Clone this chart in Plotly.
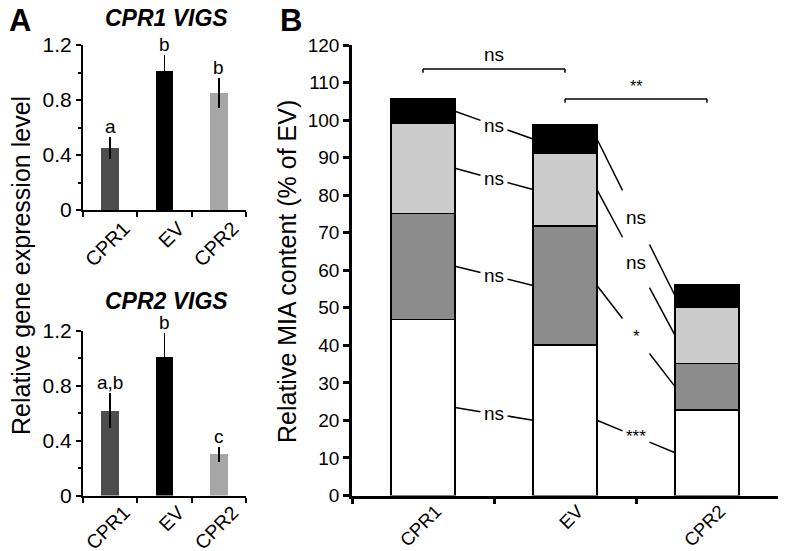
import plotly.graph_objects as go

# ---------------- data ----------------
categories = ["CPR1", "EV", "CPR2"]

# Panel A (top): CPR1 VIGS
a1_values = [0.45, 1.01, 0.85]
a1_errors = [0.08, 0.12, 0.11]
a1_letters = ["a", "b", "b"]

# Panel A (bottom): CPR2 VIGS
a2_values = [0.62, 1.01, 0.30]
a2_errors = [0.125, 0.175, 0.055]
a2_letters = ["a,b", "b", "c"]

a_colors = ["#4d4d4d", "#000000", "#a6a6a6"]
a_yticks = [0, 0.4, 0.8, 1.2]
a_yticktext = ["0", "0.4", "0.8", "1.2"]

# Panel B: stacked segments (bottom -> top)
b_white = [46.9, 40.1, 22.8]
b_dark = [28.3, 31.7, 12.4]
b_light = [23.9, 19.4, 14.9]
b_black = [6.5, 7.5, 6.2]
b_segments = [b_white, b_dark, b_light, b_black]
b_colors = ["#ffffff", "#8c8c8c", "#cccccc", "#000000"]

# significance labels for connectors (bottom -> top segment)
sig_cpr1_ev = ["ns", "ns", "ns", "ns"]
sig_ev_cpr2 = ["***", "*", "ns", "ns"]
bracket_labels = ["ns", "**"]
bracket_pairs = [(0, 1), (1, 2)]
bracket_levels = [113.6, 105.6]

# ---------------- figure ----------------
W, H = 789, 551
OFF = 8  # page body margin offset
FONT = "Liberation Sans, Arial, sans-serif"


def px_x(p):
    return (p - OFF) / W


def px_y(p):
    return 1 - (p - OFF) / H


fig = go.Figure()

# Panel A bars
for vals, errs, xa, ya in [(a1_values, a1_errors, "x", "y"), (a2_values, a2_errors, "x2", "y2")]:
    fig.add_trace(go.Bar(
        x=categories, y=vals, xaxis=xa, yaxis=ya, width=0.33,
        marker=dict(color=a_colors, line=dict(width=0)),
        error_y=dict(type="data", array=errs, color="black", thickness=1.5, width=0),
        showlegend=False,
    ))

# Panel B stacked bars
for seg, col in zip(b_segments, b_colors):
    fig.add_trace(go.Bar(
        x=categories, y=seg, xaxis="x3", yaxis="y3", width=0.45,
        marker=dict(color=col, line=dict(color="black", width=1.2)),
        showlegend=False,
    ))

fig.update_layout(barmode="stack")

axis_common = dict(
    showline=True, linecolor="black", ticks="outside", tickcolor="black",
    showgrid=False, zeroline=False, mirror=False, automargin=False,
)

a_xdom = [px_x(83), px_x(246)]
fig.update_layout(
    width=W, height=H, autosize=False,
    margin=dict(l=0, r=0, t=0, b=0, pad=0),
    paper_bgcolor="white", plot_bgcolor="white",
    font=dict(family=FONT, color="black"),
    xaxis=dict(domain=a_xdom, anchor="y", type="category", tickson="boundaries",
               tickangle=-45, linewidth=2, tickwidth=2, ticklen=5,
               ticklabelshift=14, ticklabelstandoff=-3,
               tickfont=dict(size=20), **axis_common),
    yaxis=dict(domain=[px_y(210), px_y(45)], anchor="x", range=[0, 1.2],
               tickvals=a_yticks, ticktext=a_yticktext, linewidth=2, tickwidth=2, ticklen=5,
               minor=dict(dtick=0.2, tick0=0, ticks="outside", ticklen=3, tickwidth=1.5, tickcolor="black"),
               tickfont=dict(size=21), **axis_common),
    xaxis2=dict(domain=a_xdom, anchor="y2", type="category", tickson="boundaries",
                tickangle=-45, linewidth=2, tickwidth=2, ticklen=5,
                ticklabelshift=14, ticklabelstandoff=-4,
                tickfont=dict(size=19.5), **axis_common),
    yaxis2=dict(domain=[px_y(495.5), px_y(331)], anchor="x2", range=[0, 1.2],
                tickvals=a_yticks, ticktext=a_yticktext, linewidth=2, tickwidth=2, ticklen=5,
                minor=dict(dtick=0.2, tick0=0, ticks="outside", ticklen=3, tickwidth=1.5, tickcolor="black"),
                tickfont=dict(size=21), **axis_common),
    xaxis3=dict(domain=[px_x(352), px_x(778)], anchor="y3", type="category", tickson="boundaries",
                tickangle=-45, linewidth=2.5, tickwidth=2.5, ticklen=6,
                ticklabelshift=13, ticklabelstandoff=-5,
                tickfont=dict(size=18.5), **axis_common),
    yaxis3=dict(domain=[px_y(495.5), px_y(45)], anchor="x3", range=[0, 120],
                dtick=10, linewidth=2.5, tickwidth=2.5, ticklen=6,
                tickfont=dict(size=19), **axis_common),
)

annotations = []
shapes = []

# Letters above panel A bars
for vals, errs, letters, xa, ya in [(a1_values, a1_errors, a1_letters, "x", "y"),
                                     (a2_values, a2_errors, a2_letters, "x2", "y2")]:
    for c, v, e, t in zip(categories, vals, errs, letters):
        annotations.append(dict(x=c, y=v + e, xref=xa, yref=ya, text=t, showarrow=False,
                                xanchor="center", yanchor="bottom", yshift=-2, font=dict(size=19)))


def paper_text(xp, yp, text, size, angle=0):
    return dict(x=px_x(xp), y=px_y(yp), xref="paper", yref="paper", text=text, showarrow=False,
                xanchor="center", yanchor="middle", textangle=angle, font=dict(size=size))


# Panel titles and letters
annotations += [
    paper_text(20, 20, "<b>A</b>", 31),
    paper_text(291, 20, "<b>B</b>", 31),
    paper_text(166, 18, "<b><i>CPR1 VIGS</i></b>", 23),
    paper_text(166, 301, "<b><i>CPR2 VIGS</i></b>", 23),
    paper_text(21, 266, "Relative gene expression level", 25, -90),
    paper_text(287, 272, "Relative MIA content (% of EV)", 25, -90),
]

# Segment midpoints for connectors
mids = []
for i in range(len(categories)):
    base = 0.0
    m = []
    for seg in b_segments:
        m.append(base + seg[i] / 2)
        base += seg[i]
    mids.append(m)

half_w = 0.225
gap = 0.095
line_style = dict(color="black", width=1.5)
for i, labels in [(0, sig_cpr1_ev), (1, sig_ev_cpr2)]:
    x0 = i + half_w
    x1 = i + 1 - half_w
    xm = i + 0.5
    for k, lab in enumerate(labels):
        y0 = mids[i][k]
        y1 = mids[i + 1][k]
        slope = (y1 - y0) / (x1 - x0)
        ya = y0 + slope * (xm - gap - x0)
        yb = y0 + slope * (xm + gap - x0)
        shapes.append(dict(type="line", xref="x3", yref="y3", x0=x0, y0=y0, x1=xm - gap, y1=ya,
                           line=line_style))
        shapes.append(dict(type="line", xref="x3", yref="y3", x0=xm + gap, y0=yb, x1=x1, y1=y1,
                           line=line_style))
        annotations.append(dict(x=xm, y=(y0 + y1) / 2, xref="x3", yref="y3", text=lab,
                                xanchor="center", yanchor="middle",
                                showarrow=False, font=dict(size=19 if lab == "ns" else 17)))

# Brackets
for (i, j), lev, lab in zip(bracket_pairs, bracket_levels, bracket_labels):
    shapes.append(dict(type="line", xref="x3", yref="y3", x0=i, x1=j, y0=lev, y1=lev, line=line_style))
    shapes.append(dict(type="line", xref="x3", yref="y3", x0=i, x1=i, y0=lev, y1=lev - 1.0, line=line_style))
    shapes.append(dict(type="line", xref="x3", yref="y3", x0=j, x1=j, y0=lev, y1=lev - 1.0, line=line_style))
    annotations.append(dict(x=(i + j) / 2, y=lev, xref="x3", yref="y3", text=lab, showarrow=False,
                            xanchor="center", yanchor="bottom", yshift=2,
                            font=dict(size=19 if lab == "ns" else 16)))

fig.update_layout(annotations=annotations, shapes=shapes)

fig.write_html("out.html")
